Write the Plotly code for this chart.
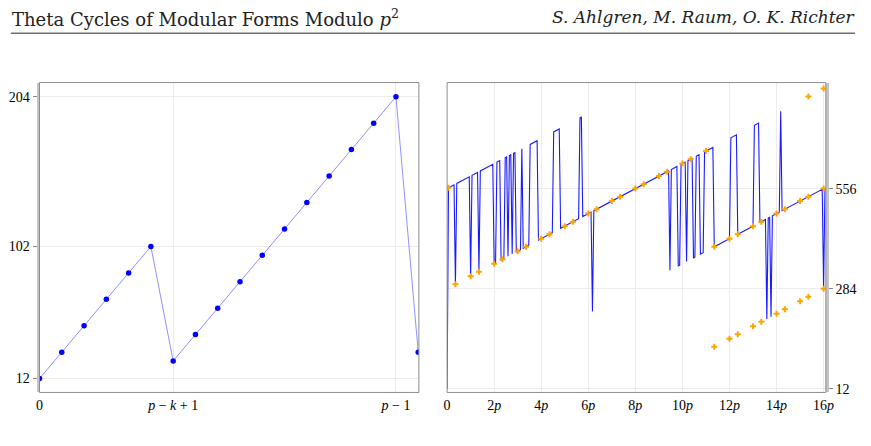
import plotly.graph_objects as go

W, H = 871, 446

# ---------- data ----------
left_x = [0, 1, 2, 3, 4, 5, 6, 7, 8, 9, 10, 11, 12, 13, 14, 15, 16, 17]
left_y = [12, 30, 48, 66, 84, 102, 24, 42, 60, 78, 96, 114, 132, 150, 168, 186, 204, 30]
left_tickvals = [0, 6, 16]
left_ticktext = ["0", "<i>p</i> − <i>k</i> + 1", "<i>p</i> − 1"]
left_ytick = [12, 102, 204]

line_x = [0, 1, 5, 6, 7, 16, 17, 18, 22, 23, 24, 33, 34, 35, 36, 38, 39, 41, 42, 43,
          44, 45, 46, 47, 48, 49, 50, 53, 54, 55, 59, 60, 65, 66, 76, 77, 81, 82, 95, 96,
          97, 98, 104, 105, 106, 160, 161, 162, 166, 167, 168, 169, 172, 173, 174, 177, 178, 179, 180, 182,
          183, 185, 186, 192, 193, 204, 205, 209, 210, 221, 222, 225, 226, 230, 231, 232, 233, 234, 235, 240,
          241, 242, 271, 272, 273]
line_y = [12, 558, 566, 296, 570, 588, 318, 592, 600, 330, 604, 622, 352, 354, 628, 632, 362, 366, 640, 642,
          372, 646, 648, 378, 652, 654, 384, 390, 664, 394, 402, 676, 686, 416, 436, 710, 718, 448, 474, 748,
          750, 480, 492, 222, 496, 604, 334, 608, 616, 346, 348, 622, 628, 358, 632, 638, 368, 370, 644, 648,
          378, 382, 656, 668, 398, 420, 694, 702, 432, 454, 728, 734, 464, 472, 202, 476, 478, 208, 482, 492,
          766, 496, 554, 284, 558]

cross_x = [1, 6, 17, 23, 34, 40, 51, 57, 68, 74, 85, 91, 102, 108, 119, 125, 136, 142, 153, 159, 170, 176, 187,
           193, 204, 210, 221, 227, 238, 244, 255, 261, 272,
           193, 204, 210, 221, 227, 238, 244, 255, 261, 272,
           261, 272]
cross_y = [558, 296, 318, 330, 352, 364, 386, 398, 420, 432, 454, 466, 488, 500, 522, 534, 556, 568, 590, 602, 624, 636, 658,
           398, 420, 432, 454, 466, 488, 500, 522, 534, 556,
           126, 148, 160, 182, 194, 216, 228, 250, 262, 284,
           806, 828]

right_tickvals = [0, 34, 68, 102, 136, 170, 204, 238, 272]
right_ticktext = ["0", "2<i>p</i>", "4<i>p</i>", "6<i>p</i>", "8<i>p</i>", "10<i>p</i>", "12<i>p</i>", "14<i>p</i>", "16<i>p</i>"]
right_ytick = [12, 284, 556]

title_text = "Theta Cycles of Modular Forms Modulo <i>p</i><sup>2</sup>"
author_text = "<i>S. Ahlgren, M. Raum, O. K. Richter</i>"

# ---------- figure ----------
def px_x(v):
    return v / W

def px_y(v):
    return 1 - v / H

fig = go.Figure()

fig.add_trace(go.Scatter(
    x=left_x, y=left_y, mode="lines+markers",
    line=dict(color="rgba(70,70,255,0.6)", width=1),
    marker=dict(color="#0000ff", size=5.5),
    xaxis="x", yaxis="y", showlegend=False, hoverinfo="skip"))

fig.add_trace(go.Scatter(
    x=line_x, y=line_y, mode="lines",
    line=dict(color="#1a1aff", width=1.1),
    xaxis="x2", yaxis="y2", showlegend=False, hoverinfo="skip"))

fig.add_trace(go.Scatter(
    x=cross_x, y=cross_y, mode="markers",
    marker=dict(symbol="cross", color="#ffa500", size=5, line=dict(width=0)),
    xaxis="x2", yaxis="y2", showlegend=False, hoverinfo="skip"))

tickfont = dict(family="Liberation Serif, DejaVu Serif, serif", size=14, color="black")
grid = "#ececec"

top_px, bot_px = 83.3, 396.0
ydom = [px_y(bot_px), px_y(top_px)]

fig.update_layout(
    width=W, height=H,
    margin=dict(l=0, r=0, t=0, b=0),
    paper_bgcolor="white", plot_bgcolor="white",
    xaxis=dict(domain=[px_x(36), px_x(420.7)], range=[0, 17.03],
               tickvals=left_tickvals, ticktext=left_ticktext,
               showgrid=True, gridcolor=grid, zeroline=False,
               showline=False, ticks="", tickfont=tickfont,
               ticklabelstandoff=3, anchor="y"),
    yaxis=dict(domain=ydom, range=[2.55, 213.7],
               tickvals=left_ytick, showgrid=True, gridcolor=grid, zeroline=False,
               showline=True, linecolor="#c4c4c4", linewidth=3,
               ticks="outside", ticklen=4, tickcolor="#888", tickfont=tickfont,
               anchor="x"),
    xaxis2=dict(domain=[px_x(449.3), px_x(833.3)], range=[0, 273.6],
                tickvals=right_tickvals, ticktext=right_ticktext,
                showgrid=True, gridcolor=grid, zeroline=False,
                showline=False, ticks="", tickfont=tickfont,
                ticklabelstandoff=3, anchor="y2"),
    yaxis2=dict(domain=ydom, range=[2.05, 844.2], side="right",
                tickvals=right_ytick, showgrid=True, gridcolor=grid, zeroline=False,
                showline=True, linecolor="#c4c4c4", linewidth=3,
                ticks="outside", ticklen=4, tickcolor="#888", tickfont=tickfont,
                anchor="x2"),
)

# frames
for xr, yr in (("x domain", "y domain"), ("x2 domain", "y2 domain")):
    fig.add_shape(type="rect", xref=xr, yref=yr, x0=0, x1=1, y0=0, y1=1,
                  line=dict(color="#8c8c8c", width=1), layer="above")

# header rule
fig.add_shape(type="line", xref="paper", yref="paper",
              x0=px_x(7), x1=px_x(863), y0=px_y(33.5), y1=px_y(33.5),
              line=dict(color="#6e6e6e", width=1.5))

fig.add_annotation(text=title_text, xref="paper", yref="paper",
                   x=px_x(6), y=px_y(4), xanchor="left", yanchor="top",
                   showarrow=False,
                   font=dict(family="DejaVu Serif, Liberation Serif, serif", size=18, color="#222"))
fig.add_annotation(text=author_text, xref="paper", yref="paper",
                   x=px_x(865), y=px_y(5), xanchor="right", yanchor="top",
                   showarrow=False,
                   font=dict(family="DejaVu Serif, Liberation Serif, serif", size=17, color="#222"))

fig.write_html("out.html")
